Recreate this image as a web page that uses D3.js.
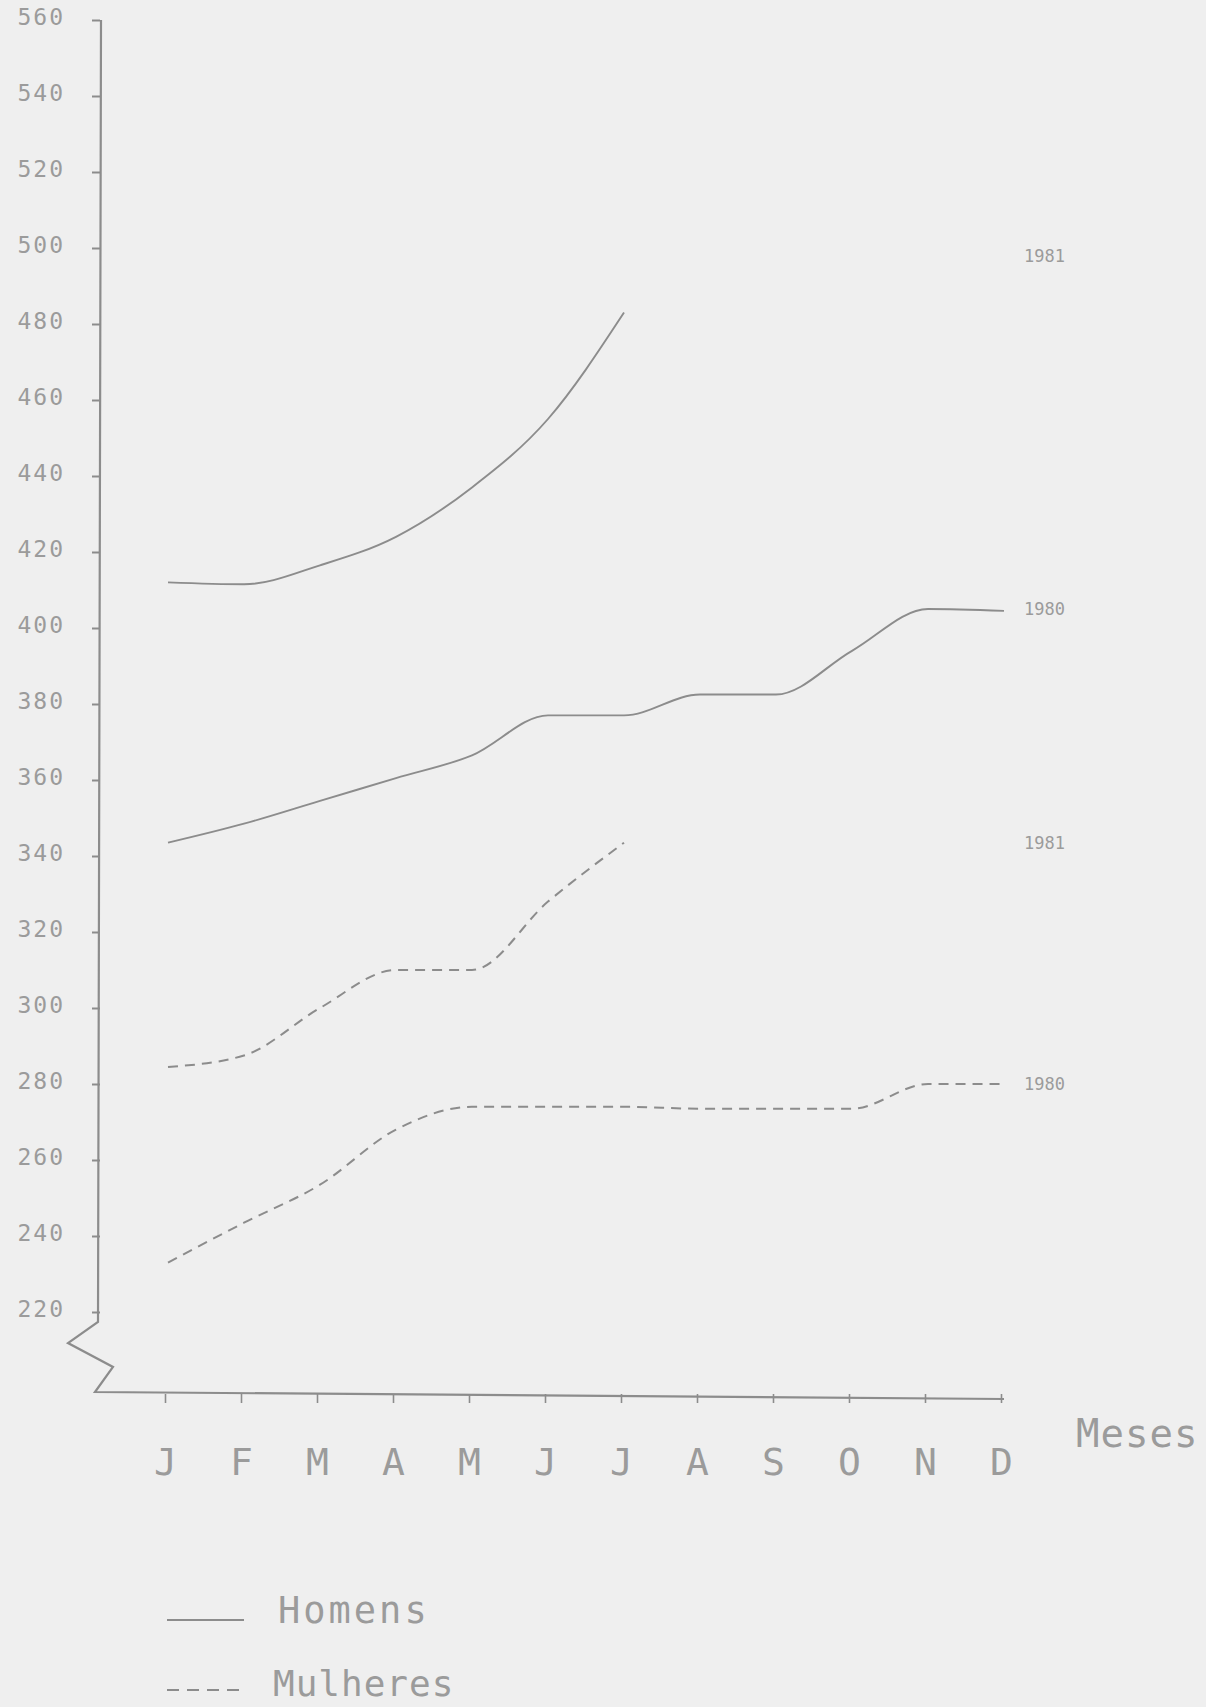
<!DOCTYPE html>
<html>
<head>
<meta charset="utf-8">
<script src="https://cdn.jsdelivr.net/npm/d3@7"></script>
<style>
  html, body { margin: 0; padding: 0; background: #efefef; }
  svg { display: block; }
  text { font-family: "DejaVu Sans Mono", monospace; fill: #9b9b9b; }
</style>
</head>
<body>
<svg id="chart" width="1206" height="1707"></svg>
<script>
// ---- data ----
const months = ["J","F","M","A","M ","J ","J  ","A ","S","O","N","D"];
const monthLabels = ["J","F","M","A","M","J","J","A","S","O","N","D"];
const yTicks = [220,240,260,280,300,320,340,360,380,400,420,440,460,480,500,520,540,560];
const homens1981 = [412, 411.5, 416.5, 424, 437, 455, 483];
const homens1980 = [343.5, 348.5, 354.5, 360.5, 366.5, 377, 377, 382.5, 382.5, 394, 405, 404.5];
const mulheres1981 = [284.5, 287.5, 300, 310, 310, 328, 343.5];
const mulheres1980 = [233, 243.5, 253.5, 268, 274, 274, 274, 273.5, 273.5, 273.5, 280, 280];
const yearLabels = [
  { text: "1981", v: 498 },
  { text: "1980", v: 405 },
  { text: "1981", v: 343.5 },
  { text: "1980", v: 280 }
];
const legendItems = ["Homens", "Mulheres"];
const axisTitleX = "Meses";

// ---- layout ----
const svg = d3.select("#chart");
const axisX = 100, baseY = 1394;
const x = d3.scalePoint().domain(months).range([168, 1004]);
const y = d3.scaleLinear().domain([220, 560]).range([1312, 20]);
const ink = "#8c8c8c";

svg.append("rect").attr("width", 1206).attr("height", 1707).attr("fill", "#efefef");

// y axis
const gy = svg.append("g").attr("transform", `translate(${axisX},0)`)
  .call(d3.axisLeft(y).tickValues(yTicks).tickSize(8).tickPadding(27).tickFormat(d3.format("d")));
gy.select(".domain").remove();
gy.selectAll(".tick line").attr("stroke", ink).attr("stroke-width", 2);
gy.selectAll(".tick text").attr("font-size", 23).attr("letter-spacing", 2)
  .attr("fill", "#999").attr("dy", "0.2em");

// y axis line with break zigzag, then x axis baseline
const y220 = y(220);
const brk = [
  [axisX + 1, y(560)],
  [axisX - 2, y220 + 10],
  [axisX - 32, y220 + 31],
  [axisX + 13, y220 + 55],
  [axisX - 5, baseY - 2],
  [x(months[months.length - 1]), baseY + 5]
];
svg.append("path").attr("d", d3.line()(brk))
  .attr("fill", "none").attr("stroke", ink).attr("stroke-width", 2.2)
  .attr("stroke-linejoin", "miter");

// x axis
const gx = svg.append("g").attr("transform", `translate(-3,${baseY})`)
  .call(d3.axisBottom(x).tickSize(9).tickPadding(45).tickFormat((d, i) => monthLabels[i]));
gx.select(".domain").remove();
gx.selectAll(".tick line").attr("stroke", ink).attr("stroke-width", 1.6);
gx.selectAll(".tick text").attr("font-size", 38).attr("fill", "#9b9b9b");

svg.append("text").attr("x", 1076).attr("y", 1447).attr("font-size", 39)
  .attr("letter-spacing", 1).text(axisTitleX);

// lines
const line = d3.line().x((d, i) => x(months[i])).y(d => y(d)).curve(d3.curveMonotoneX);
function drawSeries(vals, dashed) {
  svg.append("path").datum(vals).attr("d", line)
    .attr("fill", "none").attr("stroke", ink)
    .attr("stroke-width", dashed ? 2 : 1.9)
    .attr("stroke-dasharray", dashed ? "10,7" : null);
}
drawSeries(homens1981, false);
drawSeries(homens1980, false);
drawSeries(mulheres1981, true);
drawSeries(mulheres1980, true);

// year labels
svg.selectAll(".yl").data(yearLabels).join("text").attr("class", "yl")
  .attr("x", 1024).attr("y", d => y(d.v) + 6)
  .attr("font-size", 17).attr("fill", "#8f8f8f").text(d => d.text);

// legend
const lg = svg.append("g");
lg.append("line").attr("x1", 167).attr("x2", 244).attr("y1", 1620).attr("y2", 1620)
  .attr("stroke", ink).attr("stroke-width", 2);
lg.append("text").attr("x", 278).attr("y", 1623).attr("font-size", 37)
  .attr("letter-spacing", 3).text(legendItems[0]);
lg.append("line").attr("x1", 167).attr("x2", 240).attr("y1", 1690).attr("y2", 1690)
  .attr("stroke", ink).attr("stroke-width", 2).attr("stroke-dasharray", "12,8");
lg.append("text").attr("x", 273).attr("y", 1696).attr("font-size", 36)
  .attr("letter-spacing", 1).text(legendItems[1]);
</script>
</body>
</html>
